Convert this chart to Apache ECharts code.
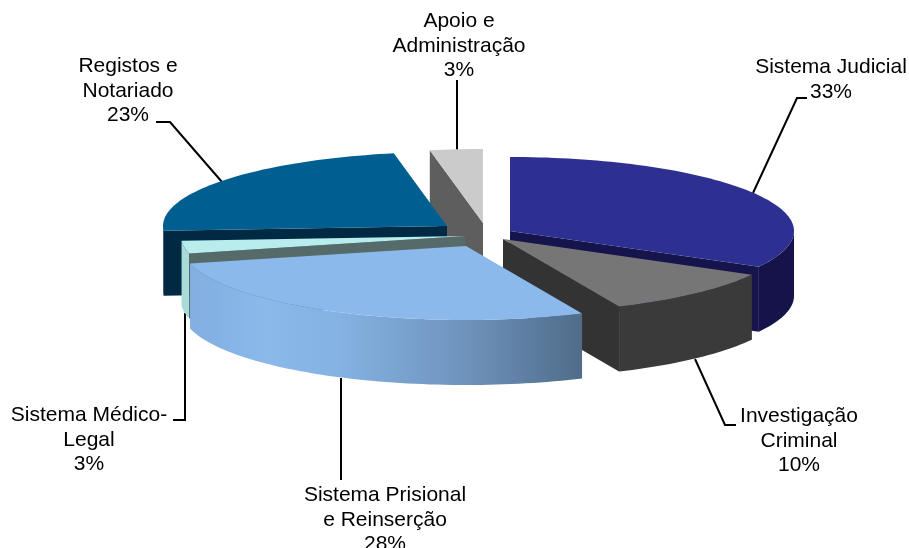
<!DOCTYPE html>
<html>
<head>
<meta charset="utf-8">
<style>html,body{margin:0;padding:0;background:#fff}#c{width:909px;height:548px}</style>
<script src="https://cdn.jsdelivr.net/npm/echarts@6/dist/echarts.min.js"></script>
</head>
<body>
<div id="c"></div>
<script>
// Data, in the chart's clockwise order starting at 12 o'clock (labels show rounded %)
const categories = ["Sistema Judicial", "Investigação\nCriminal", "Sistema Prisional\ne Reinserção", "Sistema Médico-\nLegal", "Registos e\nNotariado", "Apoio e\nAdministração"];
const values = [33.0, 10.3, 27.9, 2.8, 23.0, 3.0];

// Styles
const topColors = ["#2e3091", "#767676", "#8bb9ec", "#b9eded", "#005f90", "#cbcbcb"];
const wallColors = ["#15134a", "#3a3a3a", "wall", "#a9dcd9", "#002a44", "#5e5e5e"];
const cutColors = ["#16144c", "#333333", "#4f6c89", "#566a6a", "#002a44", "#5e5e5e"];

// Layout: exploded centres, ellipse radii and depth; label centres; leader paths
const centers = [[510, 231], [503, 239], [466, 246], [465, 236], [447, 226], [483, 223]];
const rx = 284, ry = 74, depth = 65;
const labelCenters = [[831, 80], [799, 441], [385, 520], [89, 440], [128, 91], [459, 46]];
const leaders = [
  [[807, 98], [797, 98], [753, 193]],
  [[695, 359], [725, 425], [736, 425]],
  [[341, 378], [341, 480]],
  [[185, 313], [185, 420], [173, 420]],
  [[156, 122], [170, 122], [222, 182]],
  [[457, 80], [457, 151]]
];
const drawOrder = [5, 4, 3, 0, 1, 2];

const total = values.reduce((a, b) => a + b, 0);
const startAngles = [];
const endAngles = [];
values.reduce((acc, v, i) => {
  startAngles[i] = acc / total * 360;
  endAngles[i] = (acc + v) / total * 360;
  return acc + v;
}, 0);

function pt(c, deg, dy) {
  const t = deg * Math.PI / 180;
  return [c[0] + rx * Math.sin(t), c[1] - ry * Math.cos(t) + (dy || 0)];
}
function arc(c, a, b, dy) {
  const n = Math.max(2, Math.ceil(Math.abs(b - a) / 1.5));
  const out = [];
  for (let k = 0; k <= n; k++) out.push(pt(c, a + (b - a) * k / n, dy));
  return out;
}
function cutFace(c, deg, fill) {
  const p = pt(c, deg);
  return { type: 'polygon', shape: { points: [c, p, [p[0], p[1] + depth], [c[0], c[1] + depth]] }, style: { fill: fill } };
}
const wallGradient = {
  type: 'linear', x: 190, y: 0, x2: 582, y2: 0, global: true,
  colorStops: [
    { offset: 0, color: '#82aee0' }, { offset: 0.19, color: '#8ab9ea' }, { offset: 0.38, color: '#84b2e2' },
    { offset: 0.7, color: '#6f93bd' }, { offset: 1, color: '#4f6c89' }
  ]
};

function renderSlice(params, api) {
  const i = api.value(0);
  const c = centers[i];
  const a = startAngles[i], b = endAngles[i];
  const children = [];
  if (a > 180) children.push(cutFace(c, a, cutColors[i]));
  if (b < 180) children.push(cutFace(c, b, cutColors[i]));
  const wa = Math.max(a, 90), wb = Math.min(b, 270);
  if (wb > wa) {
    const pts = arc(c, wa, wb, 0).concat(arc(c, wb, wa, depth));
    const fill = wallColors[i] === 'wall' ? wallGradient : wallColors[i];
    children.push({ type: 'polygon', shape: { points: pts }, style: { fill: fill } });
  }
  children.push({ type: 'polygon', shape: { points: [c].concat(arc(c, a, b, 0)) }, style: { fill: topColors[i] } });
  return { type: 'group', children: children };
}
function renderLabel(params, api) {
  const i = api.value(0);
  return {
    type: 'group',
    children: [
      { type: 'polyline', shape: { points: leaders[i] }, style: { fill: 'none', stroke: '#000', lineWidth: 2 } },
      {
        type: 'text', x: labelCenters[i][0], y: labelCenters[i][1],
        style: {
          text: categories[i] + '\n' + Math.round(api.value(1)) + '%',
          fill: '#000', font: '21px "Liberation Sans", Arial, sans-serif',
          lineHeight: 24.7, align: 'center', verticalAlign: 'middle'
        }
      }
    ]
  };
}
const chart = echarts.init(document.getElementById('c'), null, { renderer: 'canvas' });
chart.setOption({
  animation: false,
  backgroundColor: '#fff',
  series: [
    { type: 'custom', coordinateSystem: 'none', silent: true, z: 1, renderItem: renderLabel, data: values.map((v, i) => [i, v]) },
    { type: 'custom', coordinateSystem: 'none', silent: true, z: 2, renderItem: renderSlice, data: drawOrder.map(i => [i, values[i]]) }
  ]
});
</script>
</body>
</html>
